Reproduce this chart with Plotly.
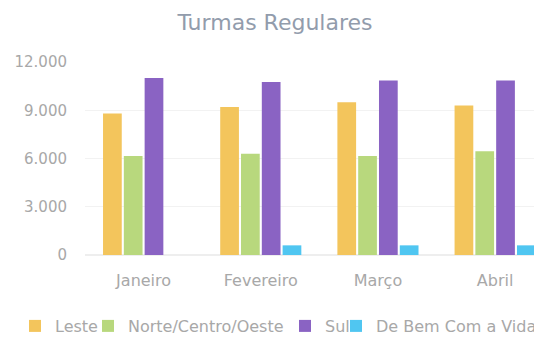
import plotly.graph_objects as go

months = ["Janeiro", "Fevereiro", "Março", "Abril"]
leste = [8800, 9200, 9500, 9300]
norte = [6150, 6300, 6150, 6450]
sul = [11000, 10750, 10850, 10850]
debem = [0, 600, 600, 600]
ytick_vals = [0, 3000, 6000, 9000, 12000]

series = [
    ("Leste", leste, "#F3C55C", "legend", 7),
    ("Norte/Centro/Oeste", norte, "#B8D87D", "legend2", 80),
    ("Sul", sul, "#8A63C3", "legend3", 277),
    ("De Bem Com a Vida", debem, "#50C6F1", "legend4", 328),
]

W, H = 534, 329  # page body adds an 8px margin

fig = go.Figure()
for name, vals, col, lg, _ in series:
    fig.add_trace(go.Bar(x=months, y=vals, name=name, legend=lg,
                         marker=dict(color=col, line=dict(width=0))))

font_family = "'DejaVu Sans', sans-serif"
legend_layouts = {}
for name, vals, col, lg, lx in series:
    legend_layouts[lg] = dict(orientation="h", x=lx / W, xanchor="left", xref="container",
                              y=1 - 318 / H, yref="container", yanchor="middle",
                              font=dict(family=font_family, size=16, color="#A8A8A8"),
                              itemwidth=30, bgcolor="rgba(0,0,0,0)", borderwidth=0)

fig.update_layout(
    width=W, height=H,
    paper_bgcolor="white", plot_bgcolor="white",
    separators=",.",
    barmode="group", bargap=0.29, bargroupgap=0.1,
    margin=dict(l=77, r=0, t=54, b=82),
    title=dict(text="Turmas Regulares", x=0.5, xref="container", xanchor="center",
               y=1 - 14 / H, yref="container", yanchor="middle",
               font=dict(family=font_family, size=22, color="#929CAC")),
    font=dict(family=font_family, size=14, color="#A8A8A8"),
    showlegend=True,
    xaxis=dict(range=[-0.5, 3.4], showgrid=False, showline=False, ticks="",
               ticklabelstandoff=14,
               tickfont=dict(size=16, color="#A8A8A8")),
    yaxis=dict(range=[0, 12000], tickvals=ytick_vals, tickformat=",d",
               showgrid=True, gridcolor="#F2F2F2", gridwidth=1,
               zeroline=True, zerolinecolor="#EEEEEE", showline=False,
               ticks="", ticklabelstandoff=17,
               tickfont=dict(size=15, color="#A8A8A8")),
    **legend_layouts,
)

fig.write_html("out.html")
